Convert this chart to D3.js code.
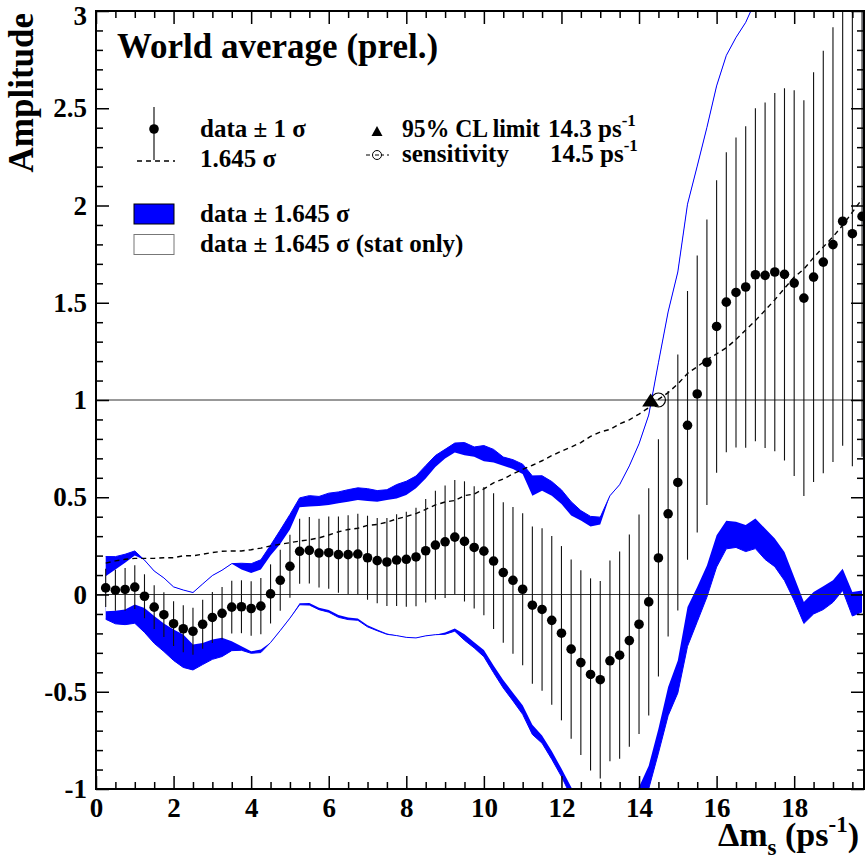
<!DOCTYPE html>
<html>
<head>
<meta charset="utf-8">
<script src="https://cdn.jsdelivr.net/npm/d3@7"></script>
<style>
  body { margin: 0; background: #fff; }
  text { font-family: "Liberation Serif", "Times New Roman", serif; font-weight: bold; }
</style>
</head>
<body>
<svg id="chart" width="867" height="859"></svg>
<script>
// oscillation frequency (ps^-1)
const dms = [
  0.25, 0.5, 0.75, 1.0, 1.25, 1.5, 1.75, 2.0, 2.25, 2.5,
  2.75, 3.0, 3.25, 3.5, 3.75, 4.0, 4.25, 4.5, 4.75, 5.0,
  5.25, 5.5, 5.75, 6.0, 6.25, 6.5, 6.75, 7.0, 7.25, 7.5,
  7.75, 8.0, 8.25, 8.5, 8.75, 9.0, 9.25, 9.5, 9.75, 10.0,
  10.25, 10.5, 10.75, 11.0, 11.25, 11.5, 11.75, 12.0, 12.25, 12.5,
  12.75, 13.0, 13.25, 13.5, 13.75, 14.0, 14.25, 14.5, 14.75, 15.0,
  15.25, 15.5, 15.75, 16.0, 16.25, 16.5, 16.75, 17.0, 17.25, 17.5,
  17.75, 18.0, 18.25, 18.5, 18.75, 19.0, 19.25, 19.5, 19.75
];

// measured amplitude
const amp = [
  0.034, 0.022, 0.026, 0.038, -0.009, -0.065, -0.104, -0.150, -0.176, -0.189,
  -0.153, -0.118, -0.097, -0.065, -0.063, -0.072, -0.060, 0.003, 0.073, 0.145,
  0.222, 0.227, 0.213, 0.215, 0.205, 0.205, 0.208, 0.189, 0.174, 0.167,
  0.177, 0.181, 0.193, 0.225, 0.254, 0.271, 0.295, 0.273, 0.242, 0.223,
  0.172, 0.113, 0.073, 0.027, -0.055, -0.077, -0.133, -0.199, -0.281, -0.350,
  -0.411, -0.438, -0.341, -0.312, -0.237, -0.153, -0.038, 0.188, 0.415, 0.576,
  0.870, 1.031, 1.194, 1.378, 1.503, 1.553, 1.581, 1.644, 1.641, 1.658,
  1.646, 1.601, 1.524, 1.632, 1.709, 1.799, 1.919, 1.855, 1.944
];

// total 1 sigma error
const sigma = [
  0.098, 0.105, 0.110, 0.113, 0.113, 0.113, 0.115, 0.115, 0.121, 0.121,
  0.126, 0.131, 0.135, 0.136, 0.136, 0.140, 0.145, 0.152, 0.157, 0.162,
  0.167, 0.171, 0.177, 0.186, 0.196, 0.203, 0.207, 0.216, 0.219, 0.226,
  0.236, 0.244, 0.253, 0.266, 0.280, 0.289, 0.294, 0.309, 0.314, 0.330,
  0.349, 0.361, 0.377, 0.391, 0.404, 0.418, 0.434, 0.448, 0.461, 0.475,
  0.494, 0.508, 0.516, 0.533, 0.546, 0.564, 0.584, 0.610, 0.631, 0.658,
  0.691, 0.712, 0.734, 0.752, 0.771, 0.797, 0.827, 0.856, 0.888, 0.921,
  0.957, 0.992, 1.017, 1.053, 1.086, 1.118, 1.154, 1.195, 1.236
];

// edges of the stat-only band (null: same as the total band edge)
const statHi = [
  0.094, 0.129, 0.163, 0.200, null, null, null, null, null, null,
  null, null, null, null, 0.129, 0.111, 0.129, 0.200, 0.260, 0.334,
  0.448, 0.452, 0.455, 0.460, 0.469, 0.477, 0.486, 0.481, 0.477, 0.486,
  0.494, 0.512, 0.546, 0.597, 0.656, 0.699, 0.730, 0.716, 0.708, 0.685,
  0.679, 0.662, 0.645, 0.619, 0.508, 0.534, 0.508, 0.465, 0.406, 0.380,
  0.350, 0.360, null, null, null, null, null, null, null, null,
  null, null, null, null, null, null, null, null, null, null,
  null, null, null, null, null, null, null, null, null
];
const statLo = [
  -0.086, -0.084, -0.077, -0.051, -0.069, -0.111, -0.149, -0.180, -0.206, -0.257,
  -0.249, -0.232, -0.223, -0.240, -0.266, -0.292, -0.283, null, null, null,
  -0.045, -0.044, -0.068, -0.080, -0.106, -0.118, -0.124, -0.158, -0.180, -0.200,
  null, null, null, null, null, -0.195, -0.175, -0.205, -0.245, -0.285,
  -0.365, -0.440, -0.505, -0.570, -0.670, -0.725, -0.805, -0.895, -0.990, -1.085,
  -1.175, -1.225, -1.140, -1.130, -1.065, -0.990, -0.880, -0.690, -0.476, -0.339,
  -0.064, 0.039, 0.149, 0.305, 0.379, 0.374, 0.357, 0.391, 0.339, 0.288,
  0.219, 0.090, -0.039, 0.013, 0.042, 0.073, 0.133, 0.013, 0.021
];

const limit95 = 14.3;
const sensitivity = 14.5;
const nSigma = 1.645;

const xMajor = [0, 2, 4, 6, 8, 10, 12, 14, 16, 18];
const xMinor = [1, 3, 5, 7, 9, 11, 13, 15, 17, 19].concat(
  [0.5, 1.5, 2.5, 3.5, 4.5, 5.5, 6.5, 7.5, 8.5, 9.5, 10.5, 11.5, 12.5, 13.5, 14.5, 15.5, 16.5, 17.5, 18.5, 19.5]);
const yMajor = [-1, -0.5, 0, 0.5, 1, 1.5, 2, 2.5, 3];
const yMinor = [-0.9, -0.8, -0.7, -0.6, -0.4, -0.3, -0.2, -0.1, 0.1, 0.2, 0.3, 0.4,
  0.6, 0.7, 0.8, 0.9, 1.1, 1.2, 1.3, 1.4, 1.6, 1.7, 1.8, 1.9, 2.1, 2.2, 2.3, 2.4,
  2.6, 2.7, 2.8, 2.9];

const pL = 96, pR = 864, pT = 11, pB = 789;
const blue = '#0000ff';

const svg = d3.select('#chart');

const x = d3.scaleLinear().domain([0, 19.8]).range([pL, pR]);
const y = d3.scaleLinear().domain([-1, 3]).range([pB, pT]);

const pts = dms.map((d, i) => {
  const hi = amp[i] + nSigma * sigma[i];
  const lo = amp[i] - nSigma * sigma[i];
  return {
    x: d, a: amp[i], s: sigma[i], hi, lo,
    shi: statHi[i] ?? hi, slo: statLo[i] ?? lo
  };
});

svg.append('clipPath').attr('id', 'plot')
  .append('rect').attr('x', pL).attr('y', pT)
  .attr('width', pR - pL).attr('height', pB - pT);

const g = svg.append('g').attr('clip-path', 'url(#plot)');

// total band, then stat only band on top
g.append('path').datum(pts)
  .attr('fill', blue)
  .attr('d', d3.area().x(d => x(d.x)).y0(d => y(d.lo)).y1(d => y(d.hi)));
g.append('path').datum(pts)
  .attr('fill', '#fff')
  .attr('d', d3.area().x(d => x(d.x)).y0(d => y(d.slo)).y1(d => y(d.shi)));
['hi', 'lo'].forEach(k => {
  g.append('path').datum(pts)
    .attr('fill', 'none').attr('stroke', blue).attr('stroke-width', 1)
    .attr('d', d3.line().x(d => x(d.x)).y(d => y(d[k])));
});

// reference lines at 0 and 1
[0, 1].forEach(v => {
  g.append('line')
    .attr('x1', pL).attr('x2', pR)
    .attr('y1', y(v)).attr('y2', y(v))
    .attr('stroke', '#333').attr('stroke-width', 1);
});

// 1.645 sigma curve
g.append('path').datum(pts)
  .attr('fill', 'none').attr('stroke', '#000')
  .attr('stroke-width', 1.4).attr('stroke-dasharray', '5,4')
  .attr('d', d3.line().x(d => x(d.x)).y(d => y(nSigma * d.s)));

// error bars and points
g.selectAll('.bar').data(pts).join('line')
  .attr('x1', d => x(d.x)).attr('x2', d => x(d.x))
  .attr('y1', d => y(d.a - d.s)).attr('y2', d => y(d.a + d.s))
  .attr('stroke', '#111').attr('stroke-width', 1.1);
g.selectAll('.pt').data(pts).join('circle')
  .attr('cx', d => x(d.x)).attr('cy', d => y(d.a)).attr('r', 4.8)
  .attr('fill', '#000');

// limit and sensitivity markers
const tri = (cx, cy, w, h) => `M${cx - w / 2},${cy + h / 2}L${cx + w / 2},${cy + h / 2}L${cx},${cy - h / 2}Z`;
svg.append('circle').attr('cx', x(sensitivity)).attr('cy', y(1)).attr('r', 7)
  .attr('fill', 'none').attr('stroke', '#000').attr('stroke-width', 1.2);
svg.append('path').attr('d', tri(x(limit95), y(1), 17, 13)).attr('fill', '#000');

// axes
function styleAxis(sel) {
  sel.select('.domain').remove();
  sel.selectAll('line').attr('stroke', '#000').attr('stroke-width', 1.5);
  sel.selectAll('text').style('font-size', '27px').attr('fill', '#000');
}
svg.append('g').attr('transform', `translate(0,${pB})`)
  .call(d3.axisBottom(x).tickValues(xMajor).tickSizeInner(-13).tickSizeOuter(0).tickPadding(9).tickFormat(d3.format('d')))
  .call(styleAxis);
svg.append('g').attr('transform', `translate(0,${pB})`)
  .call(d3.axisBottom(x).tickValues(xMinor).tickSizeInner(-7).tickSizeOuter(0).tickFormat(''))
  .call(styleAxis);
svg.append('g').attr('transform', `translate(0,${pT})`)
  .call(d3.axisTop(x).tickValues(xMajor).tickSizeInner(-13).tickSizeOuter(0).tickFormat(''))
  .call(styleAxis);
svg.append('g').attr('transform', `translate(0,${pT})`)
  .call(d3.axisTop(x).tickValues(xMinor).tickSizeInner(-7).tickSizeOuter(0).tickFormat(''))
  .call(styleAxis);
svg.append('g').attr('transform', `translate(${pL},0)`)
  .call(d3.axisLeft(y).tickValues(yMajor).tickSizeInner(-13).tickSizeOuter(0).tickPadding(9).tickFormat(d => String(d)))
  .call(styleAxis)
  .selectAll('text').filter(d => d === 3).attr('dy', '0.5em');
svg.append('g').attr('transform', `translate(${pL},0)`)
  .call(d3.axisLeft(y).tickValues(yMinor).tickSizeInner(-7).tickSizeOuter(0).tickFormat(''))
  .call(styleAxis);
svg.append('g').attr('transform', `translate(${pR},0)`)
  .call(d3.axisRight(y).tickValues(yMajor).tickSizeInner(-13).tickSizeOuter(0).tickFormat(''))
  .call(styleAxis);
svg.append('g').attr('transform', `translate(${pR},0)`)
  .call(d3.axisRight(y).tickValues(yMinor).tickSizeInner(-7).tickSizeOuter(0).tickFormat(''))
  .call(styleAxis);

svg.append('rect').attr('x', pL).attr('y', pT)
  .attr('width', pR - pL).attr('height', pB - pT)
  .attr('fill', 'none').attr('stroke', '#000').attr('stroke-width', 2);

// axis titles
svg.append('text')
  .attr('transform', 'translate(33,13) rotate(-90)')
  .attr('text-anchor', 'end').style('font-size', '35px')
  .text('Amplitude');

const xt = svg.append('text').attr('x', 859).attr('y', 846)
  .attr('text-anchor', 'end').style('font-size', '34px');
xt.append('tspan').text('\u0394m');
xt.append('tspan').attr('dy', 9).style('font-size', '23px').text('s');
xt.append('tspan').attr('dy', -9).text(' (ps');
xt.append('tspan').attr('dy', -14).style('font-size', '23px').text('-1');
xt.append('tspan').attr('dy', 14).text(')');

// title and legend
svg.append('text').attr('x', 117).attr('y', 58).style('font-size', '35px')
  .text('World average (prel.)');

const lg = svg.append('g').style('font-size', '25px');
lg.append('line').attr('x1', 154).attr('x2', 154).attr('y1', 107).attr('y2', 160)
  .attr('stroke', '#000').attr('stroke-width', 1.1);
lg.append('circle').attr('cx', 154).attr('cy', 129).attr('r', 4.8).attr('fill', '#000');
lg.append('text').attr('x', 200).attr('y', 137).text('data \u00b1 1 \u03c3');

lg.append('line').attr('x1', 137).attr('x2', 175).attr('y1', 161).attr('y2', 161)
  .attr('stroke', '#000').attr('stroke-width', 1.4).attr('stroke-dasharray', '5,4');
lg.append('text').attr('x', 200).attr('y', 167).text('1.645 \u03c3');

lg.append('path').attr('d', tri(377, 131, 11, 10)).attr('fill', '#000');
lg.append('text').attr('x', 402).attr('y', 137)
  .attr('textLength', 138).attr('lengthAdjust', 'spacingAndGlyphs')
  .text('95% CL limit');
const l1 = lg.append('text').attr('x', 548).attr('y', 137);
l1.append('tspan').text('14.3 ps');
l1.append('tspan').attr('dy', -11).style('font-size', '17px').text('-1');

lg.append('line').attr('x1', 366).attr('x2', 389).attr('y1', 155).attr('y2', 155)
  .attr('stroke', '#000').attr('stroke-width', 1).attr('stroke-dasharray', '4,3');
lg.append('circle').attr('cx', 377).attr('cy', 155).attr('r', 4.5)
  .attr('fill', '#fff').attr('stroke', '#000').attr('stroke-width', 1);
lg.append('line').attr('x1', 375).attr('x2', 379).attr('y1', 155).attr('y2', 155)
  .attr('stroke', '#000').attr('stroke-width', 1);
lg.append('text').attr('x', 402).attr('y', 162).text('sensitivity');
const l2 = lg.append('text').attr('x', 550).attr('y', 162);
l2.append('tspan').text('14.5 ps');
l2.append('tspan').attr('dy', -11).style('font-size', '17px').text('-1');

lg.append('rect').attr('x', 134).attr('y', 204).attr('width', 40).attr('height', 20)
  .attr('fill', blue).attr('stroke', '#000').attr('stroke-width', 1);
lg.append('text').attr('x', 200).attr('y', 222).text('data \u00b1 1.645 \u03c3');
lg.append('rect').attr('x', 134).attr('y', 234.5).attr('width', 40).attr('height', 20)
  .attr('fill', '#fff').attr('stroke', '#777').attr('stroke-width', 1);
lg.append('text').attr('x', 200).attr('y', 252).text('data \u00b1 1.645 \u03c3 (stat only)');
</script>
</body>
</html>
